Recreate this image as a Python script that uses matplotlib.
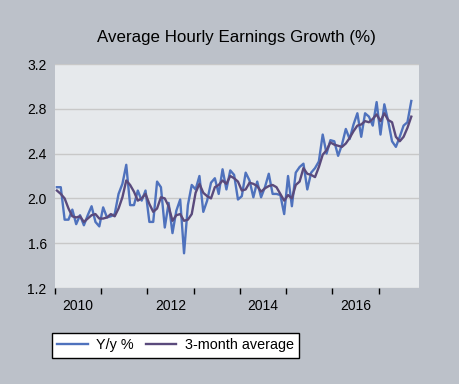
import numpy as np
import matplotlib
matplotlib.use("Agg")
import matplotlib.pyplot as plt

# monthly data, Jan 2010 .. Sep 2017
yoy = [2.10, 2.10, 1.81, 1.81, 1.90, 1.77, 1.85, 1.76, 1.85, 1.93, 1.79, 1.75,
       1.92, 1.83, 1.84, 1.86, 2.04, 2.13, 2.30, 1.94, 1.94, 2.07, 1.98, 2.07,
       1.79, 1.79, 2.15, 2.10, 1.74, 1.96, 1.69, 1.89, 1.99, 1.51, 1.94, 2.12,
       2.08, 2.20, 1.88, 1.98, 2.14, 2.18, 2.04, 2.26, 2.08, 2.25, 2.21, 1.99,
       2.02, 2.23, 2.16, 2.01, 2.15, 2.01, 2.10, 2.22, 2.04, 2.04, 2.03, 1.86,
       2.20, 1.93, 2.23, 2.28, 2.31, 2.08, 2.23, 2.27, 2.33, 2.57, 2.40, 2.52,
       2.51, 2.38, 2.48, 2.62, 2.53, 2.66, 2.76, 2.55, 2.76, 2.73, 2.65, 2.86,
       2.57, 2.84, 2.69, 2.51, 2.46, 2.55, 2.65, 2.68, 2.87]

avg3 = [2.07, 2.04, 2.00, 1.91, 1.84, 1.83, 1.84, 1.79, 1.82, 1.85, 1.86, 1.82,
        1.82, 1.83, 1.86, 1.84, 1.91, 2.01, 2.16, 2.12, 2.06, 1.98, 2.00, 2.04,
        1.95, 1.88, 1.91, 2.01, 2.00, 1.93, 1.80, 1.85, 1.86, 1.80, 1.81, 1.86,
        2.05, 2.13, 2.05, 2.02, 2.00, 2.10, 2.12, 2.16, 2.13, 2.20, 2.18, 2.15,
        2.07, 2.08, 2.14, 2.13, 2.11, 2.06, 2.09, 2.11, 2.12, 2.10, 2.04, 1.98,
        2.03, 2.00, 2.12, 2.15, 2.27, 2.22, 2.21, 2.19, 2.28, 2.39, 2.43, 2.50,
        2.48, 2.47, 2.46, 2.49, 2.54, 2.60, 2.65, 2.66, 2.69, 2.68, 2.71, 2.75,
        2.69, 2.76, 2.70, 2.68, 2.55, 2.51, 2.55, 2.63, 2.73]

year_labels = ["2010", "", "2012", "", "2014", "", "2016", ""]
y_ticks = [1.2, 1.6, 2.0, 2.4, 2.8, 3.2]

plt.rcParams['font.family'] = ['Liberation Sans', 'DejaVu Sans']

# place each month in the middle of its month
x = 2010 + (np.arange(len(yoy)) + 0.5) / 12

fig = plt.figure(figsize=(4.6, 3.84), dpi=100, facecolor='#bcc1c9')
ax = fig.add_axes([55/460, 1-288/384, 364/460, 224/384])
ax.set_facecolor('#e6e9ec')

ax.plot(x, yoy, color='#4f72bd', lw=1.7, label='Y/y %')
ax.plot(x, avg3, color='#5a4a7c', lw=1.7, label='3-month average')

ax.set_xlim(2010, 2010 + 94.5/12)
ax.set_ylim(1.2, 3.2)
ax.set_yticks(y_ticks)
ax.set_yticklabels(["%.1f" % v for v in y_ticks])
ax.grid(axis='y', color='#c8c8c8', lw=1)
ax.set_axisbelow(True)

years = np.arange(2010, 2018)
ax.set_xticks(years)
ax.set_xticklabels([])
ax.set_xticks(years + 0.5, minor=True)
ax.set_xticklabels(year_labels, minor=True)
ax.tick_params(axis='x', which='major', length=4, width=1, color='black', direction='out')
ax.tick_params(axis='x', which='minor', length=0, pad=8, labelsize=10)
ax.tick_params(axis='y', length=0, pad=6, labelsize=10)

for s in ax.spines.values():
    s.set_visible(False)

fig.text(0.513, 0.903, "Average Hourly Earnings Growth (%)", ha='center', va='center', fontsize=12.2)

leg = ax.legend(loc='upper left', bbox_to_anchor=(52/460, 1-333/384), bbox_transform=fig.transFigure,
                ncol=2, frameon=True, fancybox=False, edgecolor='black', facecolor='white',
                fontsize=10.4, handlelength=2.1, handletextpad=0.6, columnspacing=0.8,
                borderaxespad=0, borderpad=0.38)
leg.get_frame().set_linewidth(1)
leg.get_frame().set_alpha(1)

fig.savefig("out.png", dpi=100, facecolor=fig.get_facecolor())
